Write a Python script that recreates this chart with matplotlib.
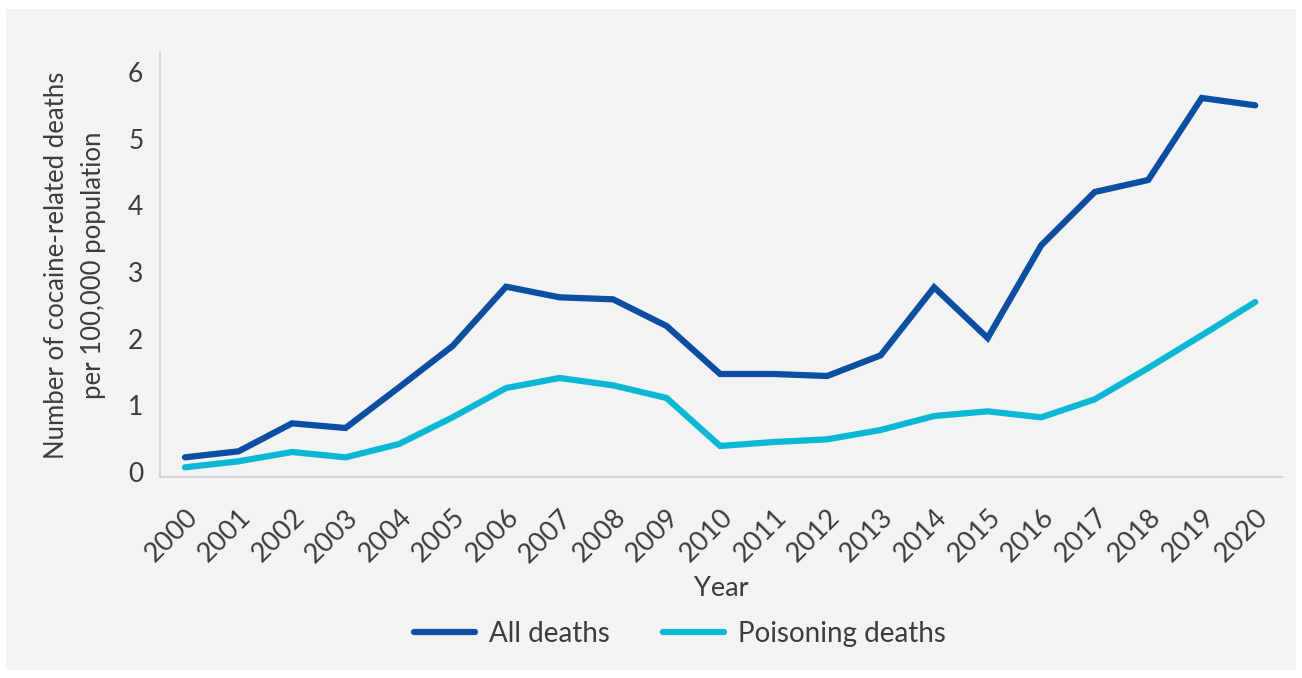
import matplotlib
matplotlib.use('Agg')
import matplotlib.pyplot as plt
from matplotlib.patches import Rectangle

years = [str(y) for y in range(2000, 2021)]
all_deaths = [0.22, 0.31, 0.73, 0.66, 1.27, 1.89, 2.78, 2.62, 2.59, 2.19, 1.47,
              1.47, 1.44, 1.75, 2.77, 2.01, 3.40, 4.20, 4.38, 5.61, 5.50]
poisoning_deaths = [0.07, 0.16, 0.30, 0.22, 0.42, 0.82, 1.26, 1.41, 1.30, 1.11, 0.39,
                    0.45, 0.49, 0.63, 0.84, 0.91, 0.82, 1.09, 1.56, 2.05, 2.55]
y_ticks = [0, 1, 2, 3, 4, 5, 6]

plt.rcParams['font.family'] = ['Lato', 'DejaVu Sans']
text_col = '#3a3d40'

fig = plt.figure(figsize=(13.02, 6.78), dpi=100, facecolor='white')
# grey panel behind the chart
fig.patches.append(Rectangle((6 / 1302, 8 / 678), 1290 / 1302, 661 / 678,
                             transform=fig.transFigure, facecolor='#f3f3f3',
                             edgecolor='none', zorder=0))

ax = fig.add_axes([160 / 1302, 1 - 477 / 678, 1122 / 1302, 424 / 678])
ax.set_facecolor('none')
ax.set_zorder(2)

x = list(range(len(years)))
ax.plot(x, all_deaths, color='#0b4ea2', lw=4.5, solid_capstyle='round',
        solid_joinstyle='miter', label='All deaths')
ax.plot(x, poisoning_deaths, color='#0ab8d5', lw=4.5, solid_capstyle='round',
        solid_joinstyle='miter', label='Poisoning deaths')

ax.set_xlim(-0.467, 20.5)
ax.set_ylim(-0.075, 6.285)
ax.set_yticks(y_ticks)
ax.set_yticklabels([str(v) for v in y_ticks], fontsize=19, color=text_col)
ax.set_xticks(x)
ax.set_xticklabels(years, fontsize=19.5, color=text_col, rotation=45,
                   ha='right', rotation_mode='anchor')
ax.tick_params(axis='both', length=0)
ax.tick_params(axis='x', pad=20)
ax.tick_params(axis='y', pad=12)

for s in ['top', 'right']:
    ax.spines[s].set_visible(False)
for s in ['left', 'bottom']:
    ax.spines[s].set_color('#d4d4d4')
    ax.spines[s].set_linewidth(1.5)

ax.set_ylabel('Number of cocaine-related deaths\nper 100,000 population',
              fontsize=18.5, color=text_col, labelpad=16, linespacing=1.6)
fig.text(721 / 1302, 1 - 588 / 678, 'Year', fontsize=19.5, color=text_col,
         ha='center', va='center', zorder=3)

leg = fig.legend(loc='center', bbox_to_anchor=(680 / 1302, 1 - 634 / 678), ncol=2,
                 frameon=False, fontsize=20, labelcolor=text_col, handlelength=2.2,
                 handletextpad=0.5, columnspacing=1.9)
leg.set_zorder(3)

fig.savefig('out.png', dpi=100, facecolor='white')
